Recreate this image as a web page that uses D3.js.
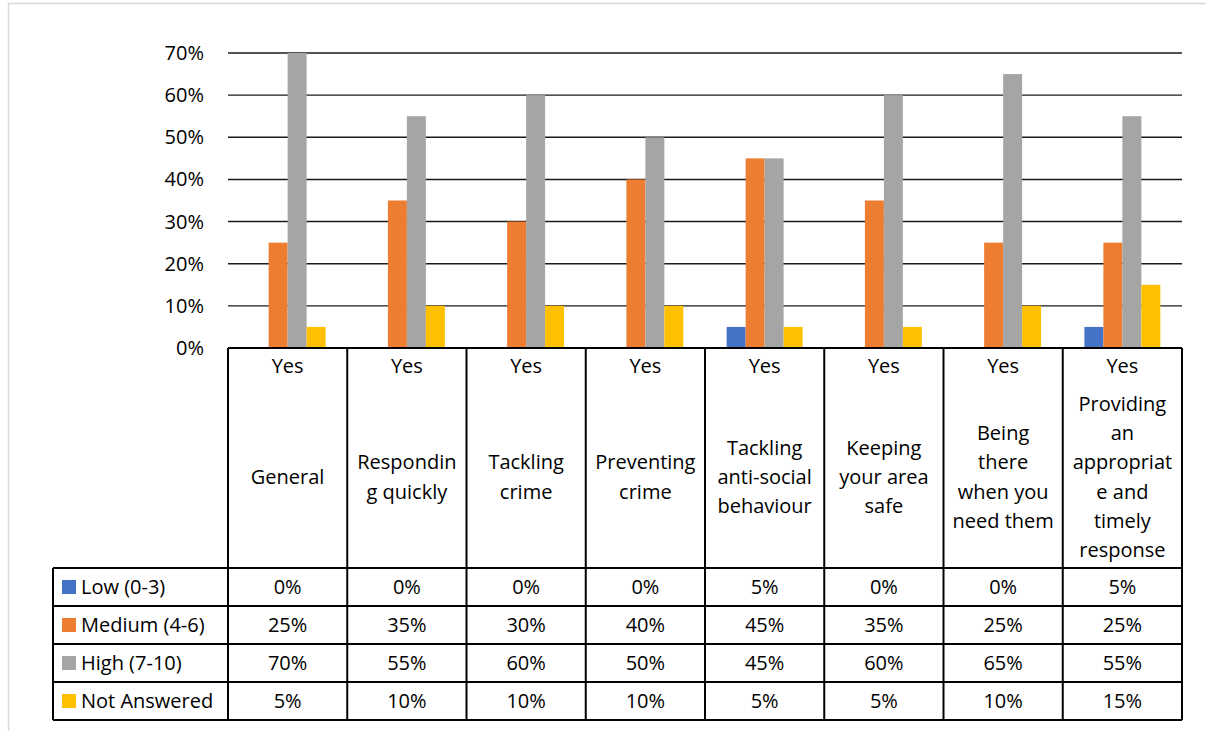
<!DOCTYPE html>
<html><head><meta charset="utf-8">
<script src="https://cdn.jsdelivr.net/npm/d3@7"></script>
<style>body{margin:0;background:#fff}svg{display:block}text{font-family:"Open Sans",sans-serif;fill:#000}</style>
</head><body><svg id="c" width="1206" height="731"></svg>
<script>
const groupLabel = "Yes";
const categories = ["General","Responding quickly","Tackling crime","Preventing crime","Tackling anti-social behaviour","Keeping your area safe","Being there when you need them","Providing an appropriate and timely response"];
const categoryLines = [["General"],["Respondin","g quickly"],["Tackling","crime"],["Preventing","crime"],["Tackling","anti-social","behaviour"],["Keeping","your area","safe"],["Being","there","when you","need them"],["Providing","an","appropriat","e and","timely","response"]];
const seriesNames = ["Low (0-3)","Medium (4-6)","High (7-10)","Not Answered"];
const low = [0,0,0,0,5,0,0,5];
const medium = [25,35,30,40,45,35,25,25];
const high = [70,55,60,50,45,60,65,55];
const notAnswered = [5,10,10,10,5,5,10,15];
const yTicks = [0,10,20,30,40,50,60,70];
const colors = ["#4472C4","#ED7D31","#A5A5A5","#FFC000"];
const series = [low, medium, high, notAnswered];

const FS = 20;
const svg = d3.select("#c");
const L = 228, R = 1182, T = 53, B = 348;
const tableLeft = 53, headerBottom = 568, rowH = 38;

svg.append("rect").attr("x",8.5).attr("y",3.5).attr("width",1210).attr("height",740)
  .attr("fill","#fff").attr("stroke","#d9d9d9").attr("stroke-width",1.5);

const x = d3.scaleBand().domain(categories).range([L,R]).paddingInner(0).paddingOuter(0);
const xs = d3.scaleBand().domain(d3.range(4)).range([0,x.bandwidth()]).paddingOuter(1.14).paddingInner(0);
const y = d3.scaleLinear().domain([0,70]).range([B,T]);

// gridlines
svg.append("g").selectAll("line").data(yTicks).join("line")
  .attr("x1",L).attr("x2",R).attr("y1",d=>y(d)).attr("y2",d=>y(d))
  .attr("stroke","#1a1a1a").attr("stroke-width",1.4);

// y axis labels
svg.append("g").selectAll("text").data(yTicks).join("text")
  .attr("x",204).attr("y",d=>y(d)).attr("dy","0.35em").attr("text-anchor","end")
  .attr("font-size",FS).text(d=>d+"%");

// bars
series.forEach((s,si)=>{
  svg.append("g").selectAll("rect").data(s).join("rect")
    .attr("x",(d,i)=>x(categories[i])+xs(si))
    .attr("width",xs.bandwidth())
    .attr("y",d=>y(d)).attr("height",d=>y(0)-y(d))
    .attr("fill",colors[si]);
});

// table
const tb = svg.append("g").attr("stroke","#000").attr("stroke-width",2).attr("fill","none");
tb.append("line").attr("x1",L).attr("x2",R).attr("y1",B).attr("y2",B);
for(let r=0;r<=4;r++){
  const yy = headerBottom + r*rowH;
  tb.append("line").attr("x1",tableLeft).attr("x2",R).attr("y1",yy).attr("y2",yy);
}
const colEdges = categories.map(c=>x(c)).concat([R]);
colEdges.forEach(cx=>{
  tb.append("line").attr("x1",cx).attr("x2",cx).attr("y1",B).attr("y2",headerBottom+4*rowH);
});
tb.append("line").attr("x1",tableLeft).attr("x2",tableLeft).attr("y1",headerBottom).attr("y2",headerBottom+4*rowH);

// header text
categories.forEach((c,i)=>{
  const cx = x(c)+x.bandwidth()/2;
  svg.append("text").attr("x",cx).attr("y",366).attr("dy","0.35em").attr("text-anchor","middle")
    .attr("font-size",FS).text(groupLabel);
  const lines = categoryLines[i];
  const lh = 29.2, cy = 477;
  lines.forEach((ln,j)=>{
    svg.append("text").attr("x",cx).attr("y",cy+(j-(lines.length-1)/2)*lh).attr("dy","0.35em")
      .attr("text-anchor","middle").attr("font-size",FS).text(ln);
  });
});

// rows
seriesNames.forEach((nm,si)=>{
  const cy = headerBottom + si*rowH + rowH/2;
  svg.append("rect").attr("x",62).attr("y",cy-7).attr("width",14).attr("height",14).attr("fill",colors[si]);
  svg.append("text").attr("x",81).attr("y",cy).attr("dy","0.35em").attr("font-size",FS).text(nm);
  series[si].forEach((v,i)=>{
    svg.append("text").attr("x",x(categories[i])+x.bandwidth()/2).attr("y",cy).attr("dy","0.35em")
      .attr("text-anchor","middle").attr("font-size",FS).text(v+"%");
  });
});
</script></body></html>
